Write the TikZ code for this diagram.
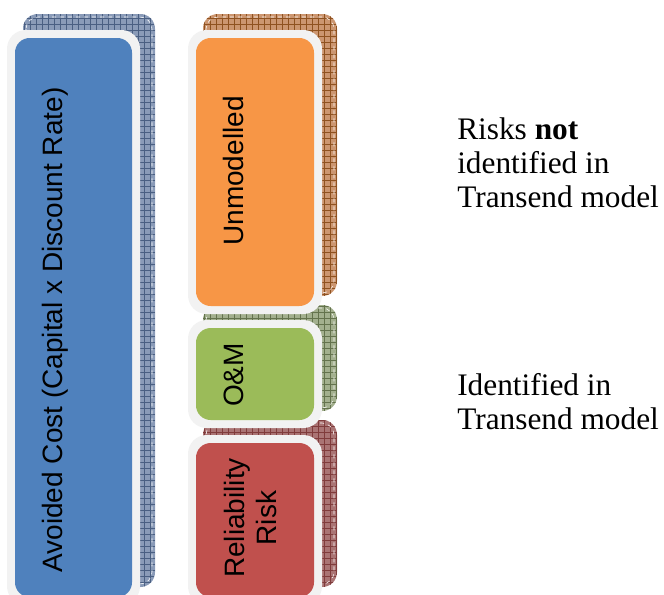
\documentclass[tikz,border=0pt]{standalone}
\usepackage{fontspec}
\setmainfont{Liberation Serif}
\newfontfamily\arialfont{Liberation Sans}
\usetikzlibrary{positioning}

\definecolor{avoidblue}{HTML}{4F81BD}
\definecolor{unmodorange}{HTML}{F79646}
\definecolor{omgreen}{HTML}{9BBB59}
\definecolor{relred}{HTML}{C0504D}
\definecolor{rim}{HTML}{F2F2F2}
\definecolor{blueshade}{HTML}{8A9BB8}
\definecolor{bluegrid}{HTML}{4A5F82}
\definecolor{orangeshade}{HTML}{CC9670}
\definecolor{orangegrid}{HTML}{8F5220}
\definecolor{greenshade}{HTML}{A3B08E}
\definecolor{greengrid}{HTML}{64734D}
\definecolor{redshade}{HTML}{AA7474}
\definecolor{redgrid}{HTML}{803C3C}

\begin{document}
\begin{tikzpicture}[x=0.75pt, y=-0.75pt,
    barlabel/.style={font=\arialfont\fontsize{21}{24}\selectfont, rotate=90, align=center, inner sep=0pt},
    sidelabel/.style={font=\fontsize{23.5}{25.5}\selectfont, align=left, anchor=west, inner sep=0pt}]
    \useasboundingbox (0,0) rectangle (664,594);

    % Hatched back plates behind each bar
    \foreach \xa/\ya/\xb/\yb/\shd/\grd in {23/14/155/587/blueshade/bluegrid,
        203/14/337/296/orangeshade/orangegrid,
        203/305/337/411/greenshade/greengrid,
        203/420/337/587/redshade/redgrid} {
        \fill[\shd, rounded corners=11pt] (\xa,\ya) rectangle (\xb,\yb);
        \begin{scope}
            \clip[rounded corners=11pt] (\xa,\ya) rectangle (\xb,\yb);
            \draw[\grd, line width=0.4pt, step=4.5pt] (\xa,\ya) grid (\xb,\yb);
        \end{scope}
        \draw[white, dashed, line width=0.4pt, rounded corners=9pt] (\xa+3,\ya+3) rectangle (\xb-3,\yb-3);
    }

    % Bars with their light rim
    \foreach \xa/\ya/\xb/\yb/\col in {7/30/140/605/avoidblue,
        188/30/322/314/unmodorange,
        188/320/322/428/omgreen,
        188/435/322/605/relred} {
        \fill[rim, rounded corners=14pt] (\xa,\ya) rectangle (\xb,\yb);
        \fill[\col, rounded corners=11pt] (\xa+8,\ya+8) rectangle (\xb-8,\yb-8);
    }

    % Bar labels
    \node[barlabel] (avoided) at (55,330) {Avoided Cost (Capital x Discount Rate)};
    \node[barlabel] (unmodelled) at (233,171) {Unmodelled};
    \node[barlabel] (om) at (234,375) {O\&M};
    \node[barlabel] (reliability) at (250,518) {Reliability\\Risk};

    % Notes on the right
    \node[sidelabel] (notidentified) at (457,163) {Risks \textbf{not}\\identified in\\Transend model};
    \node[sidelabel] (identified) at (457,402) {Identified in\\Transend model};
\end{tikzpicture}
\end{document}
